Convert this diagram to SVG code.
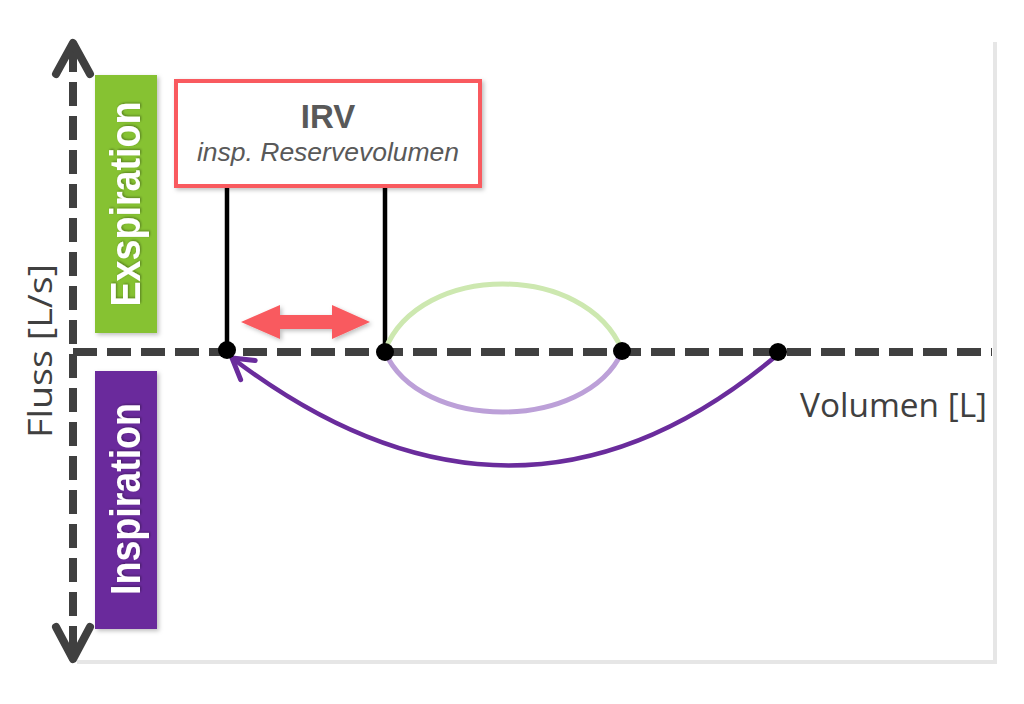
<svg xmlns="http://www.w3.org/2000/svg" width="1024" height="704" viewBox="0 0 1024 704">
  <defs>
    <filter id="shadow" x="-20%" y="-20%" width="140%" height="140%">
      <feDropShadow dx="2" dy="2" stdDeviation="2" flood-color="#000" flood-opacity="0.25"/>
    </filter>
    <filter id="tshadow" x="-20%" y="-20%" width="140%" height="140%">
      <feDropShadow dx="1" dy="1" stdDeviation="1" flood-color="#000" flood-opacity="0.35"/>
    </filter>
    <marker id="openArrow" markerUnits="userSpaceOnUse" markerWidth="40" markerHeight="40" viewBox="-30 -20 40 40" refX="0" refY="0" orient="auto">
      <path d="M-20,-12 L0,0 L-20,12" fill="none" stroke="#6a2c9c" stroke-width="5" stroke-linecap="round" stroke-linejoin="round"/>
    </marker>
  </defs>
  <style>
    .axis { stroke: #404040; stroke-width: 8; fill: none; stroke-dasharray: 24 10; }
    .axhead { stroke: #404040; stroke-width: 8; fill: none; stroke-linecap: round; stroke-linejoin: round; }
    .label { font-family: "Open Sans", "DejaVu Sans", sans-serif; font-size: 33px; fill: #404040; }
    .band { font-family: "Liberation Sans", Arial, sans-serif; font-weight: bold; font-size: 42px; fill: #ffffff; }
    .stem { stroke: #000; stroke-width: 4.5; }
    .dot { fill: #000; }
  </style>
  <rect width="1024" height="704" fill="#ffffff"/>
  <!-- panel border -->
  <g id="panel">
    <line x1="995" y1="42" x2="995" y2="662" stroke="#e6e6e6" stroke-width="4"/>
    <line x1="77" y1="662" x2="997" y2="662" stroke="#e6e6e6" stroke-width="4"/>
  </g>

  <!-- axes -->
  <g id="axes">
    <line class="axis" x1="73" y1="48" x2="73" y2="656"/>
    <polyline class="axhead" points="56,74 73,43 90,74"/>
    <polyline class="axhead" points="56,627 73,659 90,627"/>
    <line class="axis" x1="73" y1="352" x2="992" y2="352"/>
    <text class="label" x="800" y="417" textLength="187" lengthAdjust="spacingAndGlyphs">Volumen [L]</text>
    <text class="label" transform="translate(52,351) rotate(-90)" text-anchor="middle" textLength="174" lengthAdjust="spacingAndGlyphs">Fluss [L/s]</text>
  </g>

  <!-- bands -->
  <g id="expiration">
    <rect x="95" y="75" width="62" height="258" fill="#86c232" filter="url(#shadow)"/>
    <text class="band" transform="translate(140,204) rotate(-90)" text-anchor="middle" textLength="205" lengthAdjust="spacingAndGlyphs" filter="url(#tshadow)">Exspiration</text>
  </g>
  <g id="inspiration">
    <rect x="95" y="371" width="62" height="258" fill="#6a2c9c" filter="url(#shadow)"/>
    <text class="band" transform="translate(140,499) rotate(-90)" text-anchor="middle" textLength="192" lengthAdjust="spacingAndGlyphs" filter="url(#tshadow)">Inspiration</text>
  </g>

  <!-- IRV box -->
  <g id="irv">
    <rect x="176" y="81" width="304" height="105" fill="#ffffff" stroke="#f95a5f" stroke-width="4" filter="url(#shadow)"/>
    <text x="328" y="128" text-anchor="middle" font-family="'Liberation Sans', Arial, sans-serif" font-weight="bold" font-size="33" fill="#595959">IRV</text>
    <text x="328" y="161" text-anchor="middle" font-family="'Liberation Sans', Arial, sans-serif" font-style="italic" font-size="26.5" fill="#595959">insp. Reservevolumen</text>
  </g>

  <!-- connectors -->
  <g id="connectors">
    <line class="stem" x1="227" y1="188" x2="227" y2="350"/>
    <line class="stem" x1="385" y1="188" x2="385" y2="350"/>
    <path d="M385,350 C420,262 585,262 622,350" fill="none" stroke="#cde8b0" stroke-width="5"/>
    <path d="M385,352 C420,432 585,432 622,352" fill="none" stroke="#bca0d8" stroke-width="5"/>
    <path d="M776,356 Q516,574 232,358" fill="none" stroke="#6a2c9c" stroke-width="4.5" marker-end="url(#openArrow)"/>
    <path d="M241,322 L280,305 L280,315 L332,315 L332,305 L370,322 L332,339 L332,329 L280,329 L280,339 Z" fill="#f95a5f" filter="url(#shadow)"/>
  </g>

  <!-- points -->
  <g id="points">
    <circle class="dot" cx="227" cy="350" r="9"/>
    <circle class="dot" cx="385" cy="352" r="9"/>
    <circle class="dot" cx="622" cy="351" r="9"/>
    <circle class="dot" cx="778" cy="352" r="9"/>
  </g>
</svg>
